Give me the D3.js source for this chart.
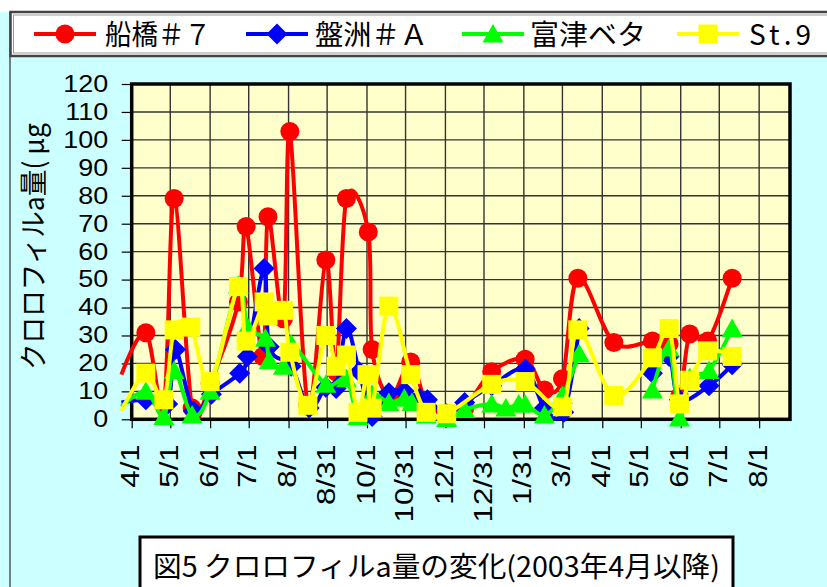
<!DOCTYPE html>
<html>
<head>
<meta charset="utf-8">
<script src="https://cdn.jsdelivr.net/npm/d3@7"></script>
<style>
  body { margin: 0; background: #ccffff; }
  svg { display: block; }
</style>
</head>
<body>
<svg id="chart" width="827" height="587"></svg>
<script>
// values, [date, chlorophyll a]
const funabashi7 = [
  ['2003-03-24', 16], ['2003-04-12', 31], ['2003-04-26', 5], ['2003-05-04', 79],
  ['2003-05-18', 4], ['2003-06-01', 13], ['2003-06-23', 42], ['2003-06-29', 69],
  ['2003-07-12', 22.5], ['2003-07-16', 72.5], ['2003-07-28', 36], ['2003-08-02', 103],
  ['2003-08-16', 5], ['2003-08-30', 57], ['2003-09-07', 17], ['2003-09-15', 79],
  ['2003-10-02', 67], ['2003-10-05', 25], ['2003-10-19', 8], ['2003-11-04', 20.5],
  ['2003-11-16', 6], ['2003-12-02', 2], ['2003-12-16', 4], ['2004-01-06', 17],
  ['2004-02-01', 21.5], ['2004-02-16', 10.5], ['2004-03-01', 14.5], ['2004-03-13', 50.5],
  ['2004-04-10', 27.5], ['2004-05-10', 28], ['2004-05-23', 27], ['2004-05-31', 8],
  ['2004-06-08', 30.5], ['2004-06-22', 28], ['2004-07-11', 50.5]
]

const banzuA = [
  ['2003-03-24', 6], ['2003-04-12', 7], ['2003-04-29', 5.5], ['2003-05-05', 25],
  ['2003-05-19', 3], ['2003-06-02', 9], ['2003-06-24', 16.5], ['2003-06-30', 22.5],
  ['2003-07-13', 54], ['2003-07-17', 26], ['2003-08-03', 19], ['2003-08-17', 4],
  ['2003-08-30', 11.5], ['2003-09-07', 11], ['2003-09-15', 32.5], ['2003-09-25', 17],
  ['2003-10-05', 1], ['2003-10-18', 9.5], ['2003-10-30', 10], ['2003-11-11', 7.5],
  ['2003-11-17', 7], ['2003-12-02', 2], ['2003-12-16', 6], ['2004-01-06', 12],
  ['2004-02-01', 18], ['2004-02-16', 4], ['2004-03-02', 2.5], ['2004-03-14', 32.5],
  ['2004-04-10', null], ['2004-05-10', 16.5], ['2004-05-23', 22.5], ['2004-05-31', 7],
  ['2004-06-23', 12], ['2004-07-11', 19.5]
]

const futtsuBeta = [
  ['2003-03-24', 4.5], ['2003-04-12', 10], ['2003-04-26', 1], ['2003-05-04', 17.5],
  ['2003-05-18', 1.5], ['2003-06-01', 10], ['2003-06-23', 48], ['2003-06-30', 33],
  ['2003-07-14', 29], ['2003-07-17', 21], ['2003-07-28', 19], ['2003-08-03', 27],
  ['2003-08-30', 12.5], ['2003-09-15', 14.5], ['2003-09-24', 1], ['2003-10-05', 9],
  ['2003-10-18', 6], ['2003-10-30', 7.5], ['2003-11-05', 6], ['2003-11-16', 1.5],
  ['2003-12-02', 0.3], ['2003-12-16', 3.5], ['2004-01-06', 5.5], ['2004-01-17', 4],
  ['2004-01-27', 5.5], ['2004-02-01', 5.5], ['2004-02-16', 1.5], ['2004-03-01', 8.5],
  ['2004-03-14', 23.5], ['2004-04-10', null], ['2004-05-10', 10.5], ['2004-05-23', 25.5],
  ['2004-05-31', 0.5], ['2004-06-08', 15], ['2004-06-23', 17.5], ['2004-07-11', 32.5]
]

const st9 = [
  ['2003-03-24', 3], ['2003-04-12', 16.5], ['2003-04-26', 7], ['2003-05-04', 32],
  ['2003-05-17', 33], ['2003-06-01', 13.5], ['2003-06-23', 47.5], ['2003-06-29', 28],
  ['2003-07-13', 42], ['2003-07-16', 37], ['2003-07-28', 39], ['2003-08-02', 24],
  ['2003-08-16', 5], ['2003-08-30', 30], ['2003-09-07', 19], ['2003-09-15', 23],
  ['2003-09-24', 2.5], ['2003-10-01', 16], ['2003-10-05', 4], ['2003-10-18', 40.5],
  ['2003-11-04', 16], ['2003-11-16', 2.5], ['2003-12-02', 2], ['2004-01-06', 12.5],
  ['2004-02-01', 13.5], ['2004-03-01', 4.5], ['2004-03-13', 32], ['2004-04-10', 8.5],
  ['2004-05-10', 22], ['2004-05-23', 32.5], ['2004-05-31', 5.5], ['2004-06-08', 14],
  ['2004-06-22', 24.5], ['2004-07-11', 22.5]
]

const seriesNames = ['船橋＃７', '盤洲＃Ａ', '富津ベタ', 'St.9']
const seriesColors = ['#ff0000', '#0000ff', '#00ff00', '#ffff00']
const seriesMarkers = ['circle', 'diamond', 'triangle', 'square']

const tickDates = [
  '2003-04-01', '2003-05-01', '2003-06-01', '2003-07-01', '2003-08-01', '2003-08-31',
  '2003-10-01', '2003-10-31', '2003-12-01', '2003-12-31', '2004-01-31', '2004-03-01',
  '2004-04-01', '2004-05-01', '2004-06-01', '2004-07-01', '2004-08-01'
]
const tickLabels = [
  '4/1', '5/1', '6/1', '7/1', '8/1', '8/31', '10/1', '10/31', '12/1', '12/31',
  '1/31', '3/1', '4/1', '5/1', '6/1', '7/1', '8/1'
]
const yTicks = d3.range(0, 121, 10)

const parse = d3.utcParse('%Y-%m-%d')
const plot = { left: 131.7, right: 790, top: 84, bottom: 419.3 }
const jp = '"Noto Sans CJK JP", "Noto Sans", sans-serif'
const latin = '"Liberation Sans", Arial, sans-serif'

const svg = d3.select('#chart')

const x = d3.scaleUtc()
  .domain([parse('2003-04-01'), parse('2004-08-25')])
  .range([plot.left, plot.right])
const y = d3.scaleLinear()
  .domain([0, 120])
  .range([plot.bottom, plot.top])

// background
svg.append('rect').attr('width', 827).attr('height', 587).attr('fill', '#ccffff')
svg.append('rect').attr('width', 827).attr('height', 12).attr('fill', '#ffffff')
svg.append('line')
  .attr('x1', 10).attr('x2', 10).attr('y1', 12).attr('y2', 587)
  .attr('stroke', '#555').attr('stroke-width', 1.5)

// plot area and grid
svg.append('rect')
  .attr('x', plot.left).attr('y', plot.top)
  .attr('width', plot.right - plot.left).attr('height', plot.bottom - plot.top)
  .attr('fill', '#ffffcc')

const grid = svg.append('g').attr('stroke', '#333').attr('stroke-width', 1.4)
grid.selectAll('.h')
  .data(yTicks.slice(1, -1))
  .join('line')
  .attr('x1', plot.left).attr('x2', plot.right)
  .attr('y1', d => y(d)).attr('y2', d => y(d))
grid.selectAll('.v')
  .data(tickDates.slice(1).map(parse))
  .join('line')
  .attr('x1', d => x(d)).attr('x2', d => x(d))
  .attr('y1', plot.top).attr('y2', plot.bottom)

// axes
const yAxis = svg.append('g')
  .attr('transform', `translate(${plot.left},0)`)
  .call(d3.axisLeft(y).tickValues(yTicks).tickSize(10))
yAxis.select('.domain').remove()
yAxis.selectAll('line').attr('stroke', '#000').attr('stroke-width', 1.2)
yAxis.selectAll('text')
  .attr('x', 0)
  .attr('transform', 'translate(-23.5,0) scale(1.17,1)')
  .attr('font-family', latin)
  .attr('font-size', 23)
  .attr('fill', '#000')

const xAxis = svg.append('g')
  .attr('transform', `translate(0,${plot.bottom})`)
  .call(d3.axisBottom(x)
    .tickValues(tickDates.map(parse))
    .tickSize(9)
    .tickFormat((d, i) => tickLabels[i]))
xAxis.select('.domain').remove()
xAxis.selectAll('line').attr('stroke', '#000').attr('stroke-width', 1.2)
xAxis.selectAll('text')
  .attr('x', 0)
  .attr('y', 0)
  .attr('dy', '0.28em')
  .attr('text-anchor', 'end')
  .attr('transform', 'translate(0,25) rotate(-90) scale(1.25,1)')
  .attr('font-family', latin)
  .attr('font-size', 25)
  .attr('fill', '#000')

svg.append('rect')
  .attr('x', plot.left).attr('y', plot.top)
  .attr('width', plot.right - plot.left).attr('height', plot.bottom - plot.top)
  .attr('fill', 'none').attr('stroke', '#000').attr('stroke-width', 3.5)

// markers
function drawMarker (sel, kind, color) {
  if (kind === 'circle') {
    sel.append('circle').attr('r', 9.5).attr('fill', color)
  } else if (kind === 'diamond') {
    sel.append('path').attr('d', 'M0,-10.5L10.5,0L0,10.5L-10.5,0Z').attr('fill', color)
  } else if (kind === 'triangle') {
    sel.append('path').attr('d', 'M0,-10L10.5,8.5L-10.5,8.5Z').attr('fill', color)
  } else {
    sel.append('rect').attr('x', -9.5).attr('y', -9.5).attr('width', 19).attr('height', 19).attr('fill', color)
  }
}

// series
const allSeries = [funabashi7, banzuA, futtsuBeta, st9]
const line = d3.line()
  .defined(d => d.value !== null)
  .x(d => x(d.date))
  .y(d => y(d.value))
  .curve(d3.curveCatmullRom.alpha(0))

allSeries.forEach((series, i) => {
  const points = series.map(([date, value]) => ({ date: parse(date), value }))
  const g = svg.append('g')

  g.append('path')
    .datum(points)
    .attr('d', line)
    .attr('fill', 'none')
    .attr('stroke', seriesColors[i])
    .attr('stroke-width', 4)
    .attr('stroke-linejoin', 'round')

  g.selectAll('g.m')
    .data(points.filter(d => d.value !== null && d.date >= x.domain()[0]))
    .join('g')
    .attr('transform', d => `translate(${x(d.date)},${y(d.value)})`)
    .each(function () {
      drawMarker(d3.select(this), seriesMarkers[i], seriesColors[i])
    })
})

// legend
const legend = svg.append('g')
legend.append('rect')
  .attr('x', 10.5).attr('y', 12).attr('width', 830).attr('height', 44)
  .attr('fill', '#fff').attr('stroke', '#444').attr('stroke-width', 2.5)
legend.append('rect')
  .attr('x', 13.5).attr('y', 15).attr('width', 830).attr('height', 38)
  .attr('fill', 'none').attr('stroke', '#999').attr('stroke-width', 1)

const legendMarkerX = [65, 277, 493, 708]
const legendTextX = [105, 315, 530, 749]
const legendTextW = [106, 113, 116, 62]
const legendAdjust = ['spacingAndGlyphs', 'spacingAndGlyphs', 'spacingAndGlyphs', 'spacing']

seriesNames.forEach((name, i) => {
  const item = legend.append('g')
  item.append('line')
    .attr('x1', legendMarkerX[i] - 31).attr('x2', legendMarkerX[i] + 31)
    .attr('y1', 34).attr('y2', 34)
    .attr('stroke', seriesColors[i]).attr('stroke-width', 4)
  drawMarker(item.append('g').attr('transform', `translate(${legendMarkerX[i]},34)`), seriesMarkers[i], seriesColors[i])
  item.append('text')
    .attr('x', legendTextX[i]).attr('y', 45)
    .attr('textLength', legendTextW[i])
    .attr('lengthAdjust', legendAdjust[i])
    .attr('font-family', jp)
    .attr('font-size', 28)
    .text(name)
})

// y title
svg.append('text')
  .attr('transform', 'translate(44,370) rotate(-90)')
  .attr('textLength', 247)
  .attr('lengthAdjust', 'spacingAndGlyphs')
  .attr('font-family', jp)
  .attr('font-size', 28)
  .text('クロロフィルa量( μg')

// caption box
svg.append('rect')
  .attr('x', 140).attr('y', 537).attr('width', 593).attr('height', 60)
  .attr('fill', '#fff').attr('stroke', '#000').attr('stroke-width', 3)
svg.append('text')
  .attr('x', 153).attr('y', 577)
  .attr('textLength', 567)
  .attr('lengthAdjust', 'spacingAndGlyphs')
  .attr('font-family', jp)
  .attr('font-size', 28)
  .text('図5  クロロフィルa量の変化(2003年4月以降)')
</script>
</body>
</html>
